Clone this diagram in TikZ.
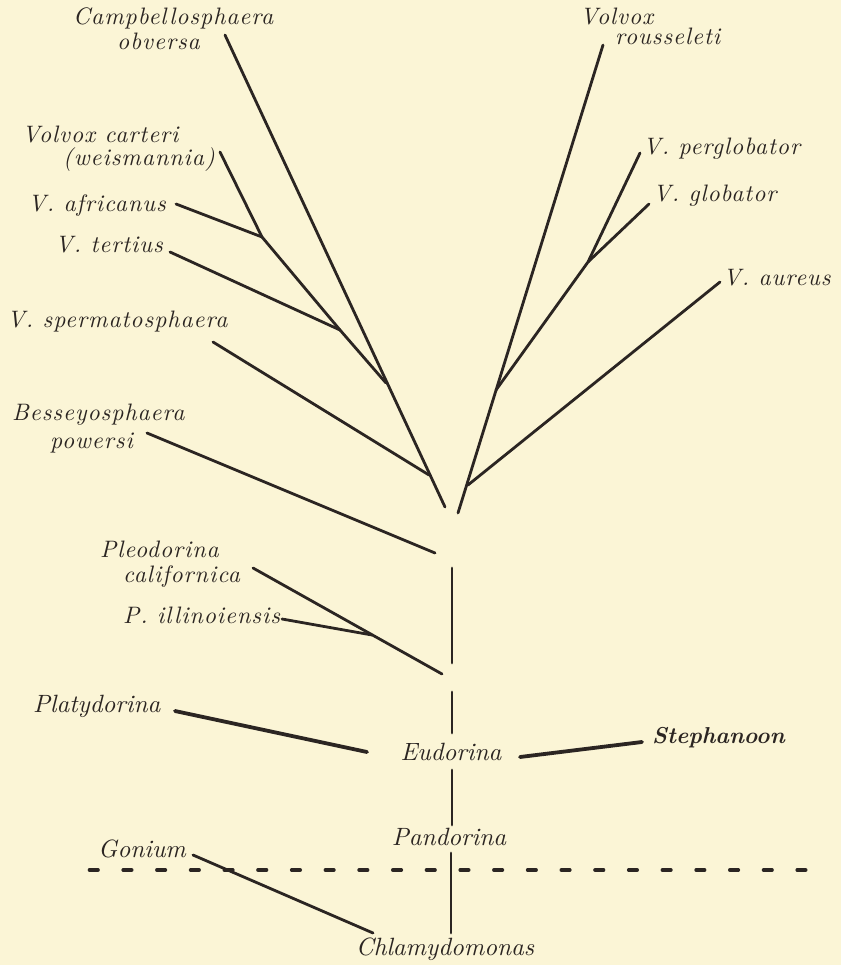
\documentclass[tikz,border=0pt]{standalone}
\usepackage{fontspec}
\newfontfamily\upfont[Extension=.otf,LetterSpace=4]{lmroman10-italic}
\newfontfamily\lowfont[Extension=.otf]{lmroman10-italic}
\newfontfamily\boldfont[Extension=.otf]{lmroman10-bolditalic}
\definecolor{paper}{RGB}{251,245,214}
\definecolor{ink}{RGB}{43,37,34}
\tikzset{
  up/.style={font=\fontsize{23.8}{27}\upfont, text=ink, inner sep=0pt},
  low/.style={font=\fontsize{25}{28}\lowfont, text=ink, inner sep=0pt},
  br/.style={draw=ink, line width=2.8pt, line cap=round, line join=round},
  brk/.style={draw=ink, line width=3.8pt, line cap=round},
}
\begin{document}
\begin{tikzpicture}[x=1pt,y=-1pt]
\fill[paper] (0,0) rectangle (841,965);
\useasboundingbox (0,0) rectangle (841,965);
% labels
\node[up,anchor=base west] (camp) at (73,25) {Campbellosphaera};
\node[up,anchor=base west] (obv) at (117,50) {obversa};
\node[up,anchor=base west] (vcar) at (22,143) {Volvox carteri};
\node[up,anchor=base west] (weis) at (63,166) {(weismannia)};
\node[up,anchor=base west] (afr) at (28,212) {V. africanus};
\node[up,anchor=base west] (ter) at (55,253) {V. tertius};
\node[up,anchor=base west] (sperm) at (7,327) {V. spermatosphaera};
\node[up,anchor=base west] (bes) at (12,420) {Besseyosphaera};
\node[up,anchor=base west] (pow) at (50,448) {powersi};
\node[up,anchor=base west] (pleo) at (100,557) {Pleodorina};
\node[up,anchor=base west] (cal) at (123,582) {californica};
\node[up,anchor=base west] (ill) at (123,623) {P. illinoiensis};
\node[up,anchor=base west] (vol) at (580,25) {Volvox};
\node[up,anchor=base west] (rou) at (615,45) {rousseleti};
\node[up,anchor=base west] (perg) at (643,155) {V. perglobator};
\node[up,anchor=base west] (glob) at (653,202) {V. globator};
\node[up,anchor=base west] (aur) at (723,285) {V. aureus};
\node[low,anchor=base west] (platy) at (33,712) {Platydorina};
\node[low,anchor=base west] (gon) at (98,857) {Gonium};
\node[low,anchor=base] (eud) at (451,760) {Eudorina};
\node[low,anchor=base] (pan) at (449,845) {Pandorina};
\node[low,anchor=base] (chl) at (445,955) {Chlamydomonas};
\node[low,anchor=base west,font=\fontsize{23}{26}\boldfont] (steph) at (652,743) {Stephanoon};
% coordinates
\coordinate (cA) at (225,35);
\coordinate (cB) at (445,507);
\coordinate (m1) at (386,383);
\coordinate (m2) at (429,475);
\coordinate (carA) at (220,152);
\coordinate (j1) at (262,237);
\coordinate (afrA) at (176,204);
\coordinate (j2) at (340,330);
\coordinate (terA) at (170,252);
\coordinate (spA) at (213,342);
\coordinate (rA) at (603,45);
\coordinate (rB) at (458,513);
\coordinate (pgA) at (640,153);
\coordinate (j3) at (588,262);
\coordinate (m3) at (496,390);
\coordinate (glA) at (649,204);
\coordinate (auA) at (720,282);
\coordinate (m4) at (468,485);
\coordinate (beA) at (147,433);
\coordinate (beB) at (435,553);
\coordinate (plA) at (253,568);
\coordinate (plB) at (442,674);
\coordinate (j4) at (372,635);
\coordinate (ilA) at (282,619);
\coordinate (ptA) at (175,711);
\coordinate (ptB) at (367,752);
\coordinate (stA) at (520,757);
\coordinate (stB) at (642,742);
\coordinate (goA) at (193,855);
\coordinate (goB) at (373,933);
\coordinate (v1a) at (452,568);
\coordinate (v1b) at (452,663);
\coordinate (v2a) at (452,692);
\coordinate (v2b) at (452,733);
\coordinate (v3a) at (452,770);
\coordinate (v3b) at (452,825);
\coordinate (v4a) at (451,853);
\coordinate (v4b) at (451,933);
\coordinate (dA) at (89.5,870);
\coordinate (dB) at (808,870);
% branches
\draw[br] (cA) -- (cB);
\draw[br] (carA) -- (j1);
\draw[br] (afrA) -- (j1);
\draw[br] (j1) -- (j2);
\draw[br] (terA) -- (j2);
\draw[br] (j2) -- (m1);
\draw[br] (spA) -- (m2);
\draw[br] (rA) -- (rB);
\draw[br] (pgA) -- (j3) -- (m3);
\draw[br] (glA) -- (j3);
\draw[br] (auA) -- (m4);
\draw[br] (beA) -- (beB);
\draw[br] (plA) -- (plB);
\draw[br] (ilA) -- (j4);
\draw[brk] (ptA) -- (ptB);
\draw[brk] (stA) -- (stB);
\draw[br] (goA) -- (goB);
\draw[br] (v1a) -- (v1b);
\draw[br] (v2a) -- (v2b);
\draw[br] (v3a) -- (v3b);
\draw[br] (v4a) -- (v4b);
\draw[draw=ink, line width=3.6pt, line cap=round, dash pattern=on 8.5pt off 25.2pt] (dA) -- (dB);
\end{tikzpicture}
\end{document}
